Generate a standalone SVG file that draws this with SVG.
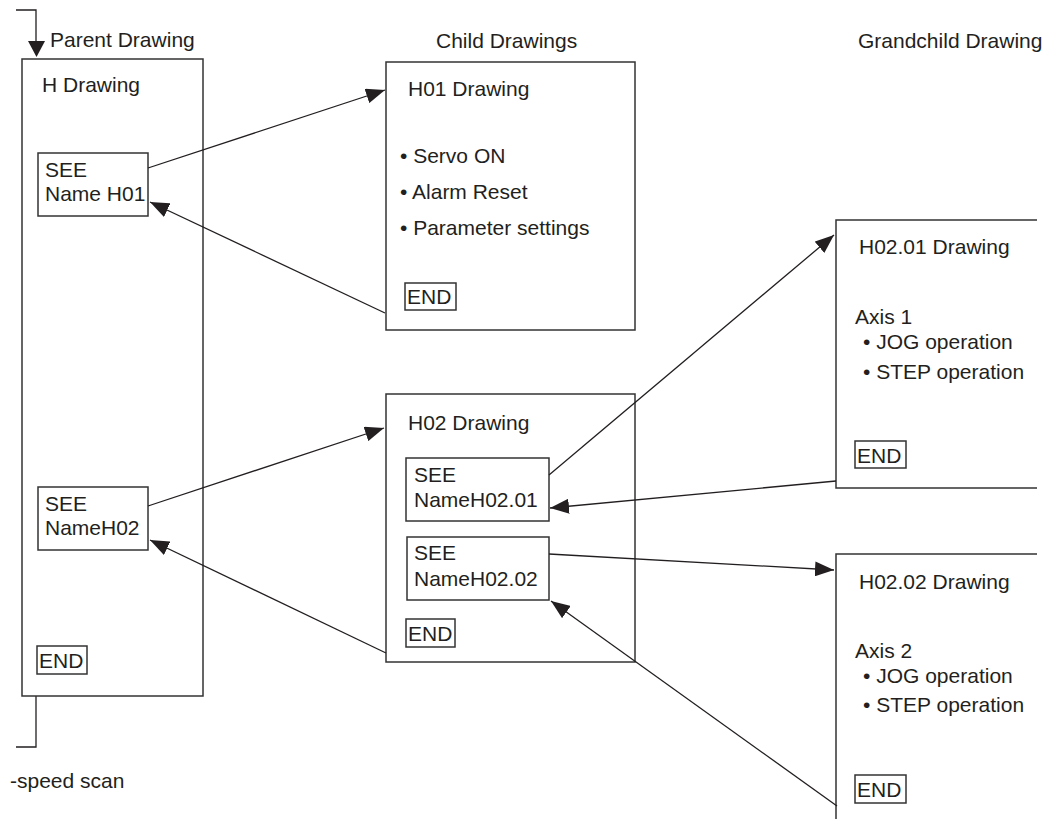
<svg xmlns="http://www.w3.org/2000/svg" width="1060" height="819" viewBox="0 0 1060 819">
<defs>
<style>
text{font-family:"Liberation Sans",Arial,sans-serif;font-size:21px;fill:#231f20}
.box{fill:none;stroke:#333;stroke-width:1.5}
.con{fill:none;stroke:#231f20;stroke-width:1.3}
</style>
<marker id="ah" viewBox="0 0 19 15" refX="19" refY="7.5" markerWidth="19" markerHeight="15" orient="auto" markerUnits="userSpaceOnUse">
<path d="M0,0 L19,7.5 L0,15 z" fill="#231f20"/>
</marker>
</defs>
<rect width="1060" height="819" fill="#fff"/>
<g id="headings">
<text x="50" y="47">Parent Drawing</text>
<text x="436" y="48">Child Drawings</text>
<text x="858" y="48">Grandchild Drawing</text>
<text x="10" y="788">-speed scan</text>
</g>
<g id="scan-bracket">
<path class="con" d="M16,10 H36 V42"/>
<polygon points="28,41 45,41 36.5,57" fill="#231f20"/>
<path class="con" d="M36,696 V747 H16"/>
</g>
<g id="parent-H">
<rect class="box" x="22" y="59" width="181" height="637"/>
<text x="42" y="92">H Drawing</text>
<rect class="box" x="38" y="153" width="110" height="63"/>
<text x="45" y="177">SEE</text>
<text x="45" y="201">Name H01</text>
<rect class="box" x="38" y="487" width="110" height="63"/>
<text x="45" y="511">SEE</text>
<text x="45" y="535">NameH02</text>
<rect class="box" x="37" y="646" width="50" height="28"/>
<text x="39" y="668">END</text>
</g>
<g id="child-H01">
<rect class="box" x="386" y="62" width="249" height="268"/>
<text x="408" y="96">H01 Drawing</text>
<text x="400" y="163">• Servo ON</text>
<text x="400" y="199">• Alarm Reset</text>
<text x="400" y="235">• Parameter settings</text>
<rect class="box" x="405" y="283" width="51" height="27"/>
<text x="407" y="304">END</text>
</g>
<g id="child-H02">
<rect class="box" x="386" y="394" width="249" height="268"/>
<text x="408" y="430">H02 Drawing</text>
<rect class="box" x="406" y="458" width="143" height="63"/>
<text x="414" y="482">SEE</text>
<text x="414" y="507">NameH02.01</text>
<rect class="box" x="407" y="537" width="142" height="63"/>
<text x="414" y="560">SEE</text>
<text x="414" y="586">NameH02.02</text>
<rect class="box" x="406" y="619" width="49" height="28"/>
<text x="408" y="641">END</text>
</g>
<g id="grandchild-H02-01">
<path class="box" d="M1037,220 H836 V488 H1037"/>
<text x="859" y="254">H02.01 Drawing</text>
<text x="855" y="324">Axis 1</text>
<text x="863" y="349">• JOG operation</text>
<text x="863" y="379">• STEP operation</text>
<rect class="box" x="855" y="441" width="51" height="27"/>
<text x="857" y="463">END</text>
</g>
<g id="grandchild-H02-02">
<path class="box" d="M1037,554 H836 V819"/>
<text x="859" y="589">H02.02 Drawing</text>
<text x="855" y="658">Axis 2</text>
<text x="863" y="683">• JOG operation</text>
<text x="863" y="712">• STEP operation</text>
<rect class="box" x="855" y="775" width="51" height="28"/>
<text x="857" y="797">END</text>
</g>
<g id="connectors">
<line class="con" x1="148" y1="168" x2="385" y2="90" marker-end="url(#ah)"/>
<line class="con" x1="385" y1="313" x2="150" y2="202" marker-end="url(#ah)"/>
<line class="con" x1="148" y1="506" x2="384" y2="428" marker-end="url(#ah)"/>
<line class="con" x1="386" y1="653" x2="150" y2="540" marker-end="url(#ah)"/>
<line class="con" x1="549" y1="475" x2="834" y2="235" marker-end="url(#ah)"/>
<line class="con" x1="836" y1="481" x2="550" y2="508" marker-end="url(#ah)"/>
<line class="con" x1="549" y1="554" x2="834" y2="570" marker-end="url(#ah)"/>
<line class="con" x1="837" y1="806" x2="551" y2="601" marker-end="url(#ah)"/>
</g>
</svg>
